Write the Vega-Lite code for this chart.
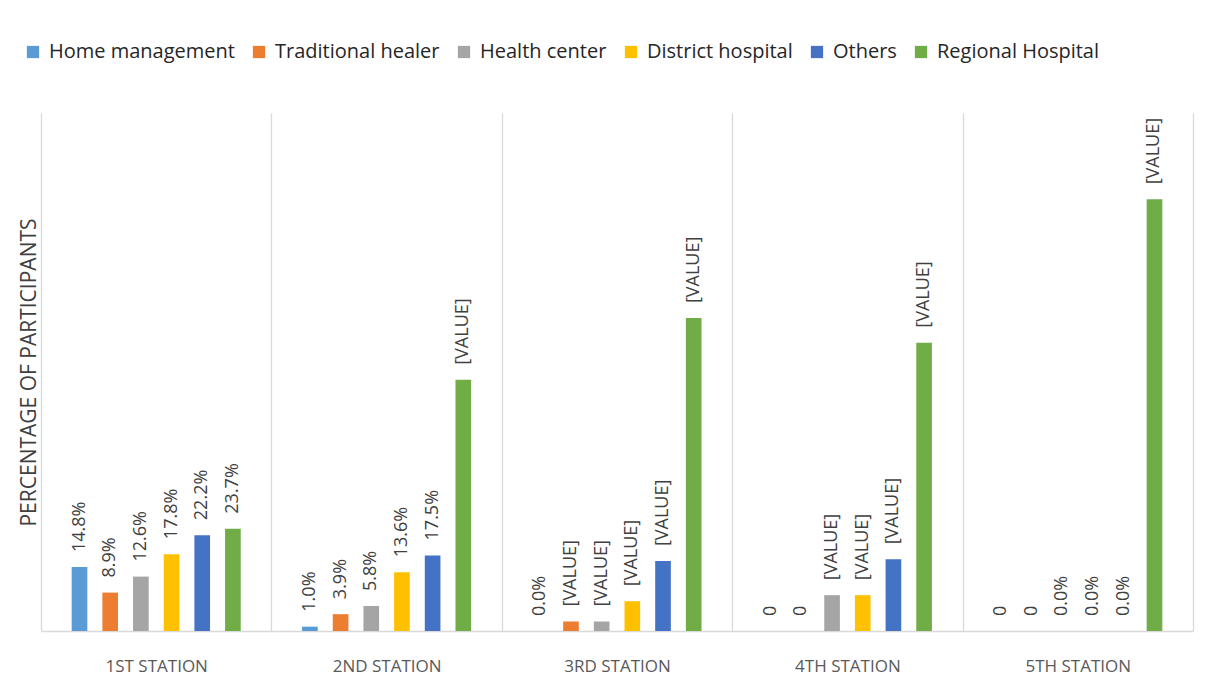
{
  "$schema": "https://vega.github.io/schema/vega-lite/v6.json",
  "width": 1152,
  "height": 518,
  "autosize": {"type": "none"},
  "padding": {"left": 41, "top": 113, "right": 21, "bottom": 45},
  "config": {"view": {"stroke": null}, "font": "Open Sans"},
  "data": {
    "values": [
      {"station": "1ST STATION", "category": "Home management", "value": 14.8, "label": "14.8%"},
      {"station": "1ST STATION", "category": "Traditional healer", "value": 8.9, "label": "8.9%"},
      {"station": "1ST STATION", "category": "Health center", "value": 12.6, "label": "12.6%"},
      {"station": "1ST STATION", "category": "District hospital", "value": 17.8, "label": "17.8%"},
      {"station": "1ST STATION", "category": "Others", "value": 22.2, "label": "22.2%"},
      {"station": "1ST STATION", "category": "Regional Hospital", "value": 23.7, "label": "23.7%"},
      {"station": "2ND STATION", "category": "Home management", "value": 1.0, "label": "1.0%"},
      {"station": "2ND STATION", "category": "Traditional healer", "value": 3.9, "label": "3.9%"},
      {"station": "2ND STATION", "category": "Health center", "value": 5.8, "label": "5.8%"},
      {"station": "2ND STATION", "category": "District hospital", "value": 13.6, "label": "13.6%"},
      {"station": "2ND STATION", "category": "Others", "value": 17.5, "label": "17.5%"},
      {"station": "2ND STATION", "category": "Regional Hospital", "value": 58.2, "label": "[VALUE]"},
      {"station": "3RD STATION", "category": "Home management", "value": 0, "label": "0.0%"},
      {"station": "3RD STATION", "category": "Traditional healer", "value": 2.2, "label": "[VALUE]"},
      {"station": "3RD STATION", "category": "Health center", "value": 2.2, "label": "[VALUE]"},
      {"station": "3RD STATION", "category": "District hospital", "value": 6.9, "label": "[VALUE]"},
      {"station": "3RD STATION", "category": "Others", "value": 16.2, "label": "[VALUE]"},
      {"station": "3RD STATION", "category": "Regional Hospital", "value": 72.5, "label": "[VALUE]"},
      {"station": "4TH STATION", "category": "Home management", "value": 0, "label": "0"},
      {"station": "4TH STATION", "category": "Traditional healer", "value": 0, "label": "0"},
      {"station": "4TH STATION", "category": "Health center", "value": 8.3, "label": "[VALUE]"},
      {"station": "4TH STATION", "category": "District hospital", "value": 8.3, "label": "[VALUE]"},
      {"station": "4TH STATION", "category": "Others", "value": 16.6, "label": "[VALUE]"},
      {"station": "4TH STATION", "category": "Regional Hospital", "value": 66.8, "label": "[VALUE]"},
      {"station": "5TH STATION", "category": "Home management", "value": 0, "label": "0"},
      {"station": "5TH STATION", "category": "Traditional healer", "value": 0, "label": "0"},
      {"station": "5TH STATION", "category": "Health center", "value": 0, "label": "0.0%"},
      {"station": "5TH STATION", "category": "District hospital", "value": 0, "label": "0.0%"},
      {"station": "5TH STATION", "category": "Others", "value": 0, "label": "0.0%"},
      {"station": "5TH STATION", "category": "Regional Hospital", "value": 100, "label": "[VALUE]"}
    ]
  },
  "encoding": {
    "x": {
      "field": "station",
      "type": "nominal",
      "sort": null,
      "scale": {"paddingInner": 0, "paddingOuter": 0},
      "axis": {
        "title": null,
        "labelAngle": 0,
        "ticks": false,
        "grid": true,
        "gridColor": "#d9d9d9",
        "gridWidth": 1.3,
        "tickBand": "extent",
        "domainColor": "#d9d9d9",
        "domainWidth": 1.3,
        "labelPadding": 40,
        "labelBaseline": "alphabetic",
        "labelFontSize": 17,
        "labelColor": "#595959"
      }
    },
    "xOffset": {
      "field": "category",
      "type": "nominal",
      "sort": ["Home management", "Traditional healer", "Health center", "District hospital", "Others", "Regional Hospital"],
      "scale": {"paddingInner": 0.49, "paddingOuter": 1.18}
    },
    "y": {
      "field": "value",
      "type": "quantitative",
      "scale": {"domain": [0, 120]},
      "axis": {
        "labels": false,
        "ticks": false,
        "domain": false,
        "grid": false,
        "title": "PERCENTAGE OF PARTICIPANTS",
        "titleFontSize": 21,
        "titleFontWeight": "normal",
        "titleColor": "#404040",
        "titlePadding": 2
      }
    }
  },
  "layer": [
    {
      "mark": {"type": "bar"},
      "encoding": {
        "color": {
          "field": "category",
          "type": "nominal",
          "sort": ["Home management", "Traditional healer", "Health center", "District hospital", "Others", "Regional Hospital"],
          "scale": {
            "domain": ["Home management", "Traditional healer", "Health center", "District hospital", "Others", "Regional Hospital"],
            "range": ["#5B9BD5", "#ED7D31", "#A5A5A5", "#FFC000", "#4472C4", "#70AD47"]
          },
          "legend": {
            "orient": "none",
            "legendX": -18,
            "legendY": -71,
            "direction": "horizontal",
            "columns": 6,
            "title": null,
            "symbolType": "square",
            "symbolSize": 150,
            "symbolStrokeWidth": 0,
            "labelFontSize": 20,
            "labelColor": "#262626",
            "labelOffset": 6,
            "columnPadding": 14,
            "labelLimit": 400
          }
        }
      }
    },
    {
      "mark": {"type": "text", "angle": 270, "align": "left", "baseline": "middle", "dx": 15, "fontSize": 18, "color": "#404040"},
      "encoding": {"text": {"field": "label", "type": "nominal"}}
    }
  ]
}
